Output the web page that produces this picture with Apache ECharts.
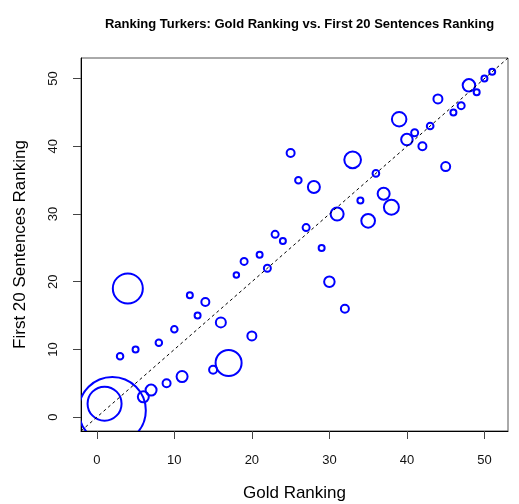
<!DOCTYPE html>
<html>
<head>
<meta charset="utf-8">
<script src="https://cdn.jsdelivr.net/npm/echarts@6/dist/echarts.min.js"></script>
<style>
  html, body { margin: 0; padding: 0; background: #fff; }
  #chart { width: 519px; height: 504px; }
</style>
</head>
<body>
<div id="chart"></div>
<script>
// gold ranking of each turker and its ranking on the first 20 sentences
var goldRank = [1, 2, 3, 4, 5, 6, 7, 8, 9, 10, 11, 12, 13, 14, 15, 16, 17, 18, 19, 20,
  21, 22, 23, 24, 25, 26, 27, 28, 29, 30, 31, 32, 33, 34, 35, 36, 37, 38, 39, 40,
  41, 42, 43, 44, 45, 46, 47, 48, 49, 50, 51]
var first20Rank = [2, 1, 9, 19, 10, 3, 4, 11, 5, 13, 6, 18, 15, 17, 7, 14, 8, 21, 23, 12,
  24, 22, 27, 26, 39, 35, 28, 34, 25, 20, 30, 16, 38, 32, 29, 36, 33, 31, 44, 41,
  42, 40, 43, 47, 37, 45, 46, 49, 48, 50, 51]
// circle size of each point
var bubble = [36, 69, 8.5, 32, 8, 13, 13, 8.5, 10, 8.5, 13, 8, 8, 10, 10, 12, 28, 7.5, 9, 11,
  8, 9, 9, 8, 10, 8.5, 9, 14, 8, 12.5, 15, 10, 18.7, 8, 15.7, 8.7, 14, 17, 16.5, 13.5,
  9, 10, 8.7, 11, 11, 8, 9, 14.5, 8, 8, 8]
var ticks = [0, 10, 20, 30, 40, 50]
var axisMin = -2.04
var axisMax = 53.04

var points = goldRank.map(function (g, i) {
  return [g, first20Rank[i], bubble[i]]
})

var font = 'Liberation Sans, Arial, Helvetica, sans-serif'

var chart = echarts.init(document.getElementById('chart'))
var option = {
  animation: false,
  title: {
    text: 'Ranking Turkers: Gold Ranking vs. First 20 Sentences Ranking',
    left: 294.5,
    textAlign: 'center',
    top: 13,
    textStyle: { fontSize: 13, fontWeight: 'bold', color: '#000', fontFamily: font }
  },
  grid: {
    left: 81,
    top: 58,
    width: 427,
    height: 373,
    outerBoundsMode: 'none',
    show: true,
    borderColor: '#555',
    borderWidth: 1
  },
  xAxis: {
    type: 'value',
    min: axisMin,
    max: axisMax,
    name: 'Gold Ranking',
    nameLocation: 'middle',
    nameGap: 54,
    nameTextStyle: { fontSize: 17, color: '#000', fontFamily: font },
    axisLine: { onZero: false, lineStyle: { color: '#000', width: 1 } },
    axisTick: { customValues: ticks, length: 8, lineStyle: { color: '#444' } },
    axisLabel: { customValues: ticks, margin: 23, fontSize: 13, color: '#111', fontFamily: font },
    splitLine: { show: false }
  },
  yAxis: {
    type: 'value',
    min: axisMin,
    max: axisMax,
    name: 'First 20 Sentences Ranking',
    nameLocation: 'middle',
    nameGap: 52,
    nameTextStyle: { fontSize: 17, color: '#000', fontFamily: font },
    axisLine: { onZero: false, lineStyle: { color: '#000', width: 1 } },
    axisTick: { customValues: ticks, length: 8, lineStyle: { color: '#444' } },
    axisLabel: { customValues: ticks, rotate: 90, margin: 21, fontSize: 13, color: '#111', fontFamily: font },
    splitLine: { show: false }
  },
  series: [
    {
      type: 'line',
      data: [[axisMin, axisMin], [axisMax, axisMax]],
      symbol: 'none',
      silent: true,
      lineStyle: { color: '#000', width: 1, type: [3, 3] },
      z: 3
    },
    {
      type: 'custom',
      data: points,
      clip: true,
      encode: { x: 0, y: 1 },
      renderItem: function (params, api) {
        var p = api.coord([api.value(0), api.value(1)])
        return {
          type: 'circle',
          shape: { cx: p[0], cy: p[1], r: (api.value(2) - 2) / 2 },
          style: { fill: 'none', stroke: '#0000ff', lineWidth: 2 }
        }
      },
      z: 2
    }
  ]
}
chart.setOption(option)
</script>
</body>
</html>
